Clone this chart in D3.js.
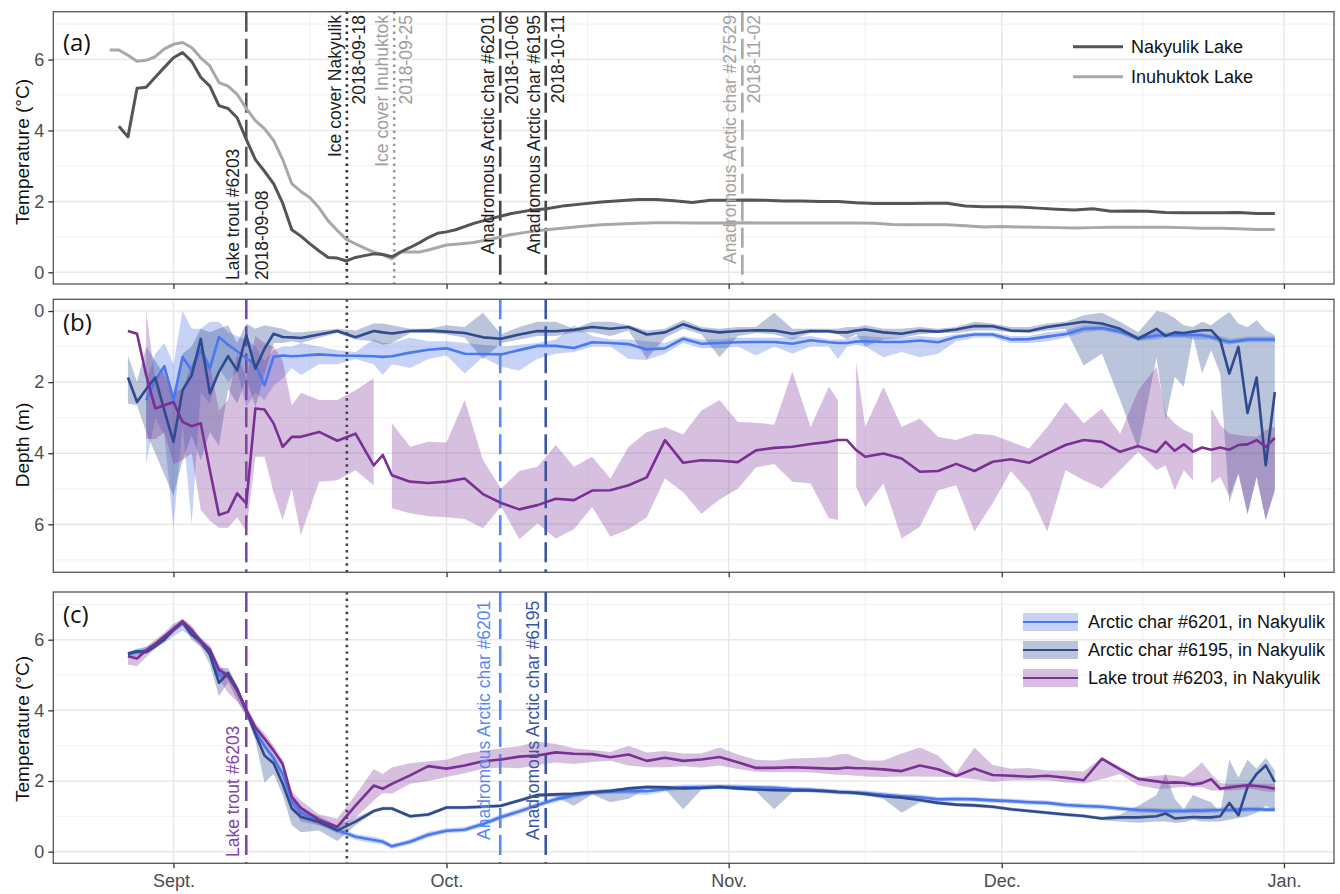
<!DOCTYPE html>
<meta charset="utf-8">
<script src="https://d3js.org/d3.v7.min.js"></script>
<style>
body { margin: 0; background: #fff; }
svg text { font-family: "Liberation Sans", Arial, sans-serif; }
.tick text { fill: #4d4d4d; font-size: 18px; }
.tick line { stroke: #333; stroke-width: 1.3px; }
</style>
<body>
<script>

// x values are days counted from 1 Sept 2018
var daysA = d3.range(-7, 31).concat(d3.range(31, 122, 2));

// (a) lake temperature
var nakyulik = [null, 4.12, 3.82, 5.19, 5.22, 5.5, 5.78, 6.05, 6.2, 5.95, 5.5, 5.25, 4.7, 4.62, 4.36, 3.75,
  3.18, 2.85, 2.5, 1.95, 1.2, 1.02, 0.8, 0.6, 0.42, 0.4, 0.32, 0.42, 0.47, 0.52, 0.5, 0.44,
  0.58, 0.7, 0.83, 0.98, 1.1, 1.14,
  1.2, 1.38, 1.52, 1.65, 1.74, 1.79, 1.88, 1.93, 1.98, 2.02, 2.05, 2.05, 2.02, 1.97, 2.03, 2.03,
  2.04, 2.03, 2.01, 2.01, 2.0, 2.0, 1.96, 1.94, 1.94, 1.94, 1.95, 1.95, 1.87, 1.85, 1.85, 1.84,
  1.81, 1.78, 1.76, 1.79, 1.72, 1.73, 1.72, 1.69, 1.68, 1.68, 1.68, 1.69, 1.66, 1.66];
var inuhuktok = [6.27, 6.27, 6.12, 5.95, 5.98, 6.08, 6.3, 6.43, 6.48, 6.34, 6.05, 5.82, 5.35, 5.25, 5.02, 4.62,
  4.28, 4.05, 3.72, 3.18, 2.5, 2.28, 2.1, 1.82, 1.45, 1.18, 0.93, 0.8, 0.68, 0.57, 0.5, 0.38,
  0.57, 0.57, 0.57, 0.63, 0.7, 0.77,
  0.79, 0.84, 0.94, 1.06, 1.14, 1.2, 1.25, 1.3, 1.34, 1.36, 1.38, 1.4, 1.4, 1.39, 1.39, 1.39,
  1.4, 1.39, 1.39, 1.39, 1.39, 1.39, 1.39, 1.38, 1.35, 1.34, 1.34, 1.34, 1.31, 1.28, 1.29, 1.28,
  1.27, 1.26, 1.25, 1.26, 1.27, 1.27, 1.27, 1.27, 1.26, 1.24, 1.24, 1.23, 1.21, 1.21];

var daysBC = [
  -5, -4, -3, -2, -1, 0, 1, 2, 3, 4, 5, 6, 7, 8, 9, 10, 11, 12, 13, 14,
  16, 18, 20, 22, 23, 24,
  26, 28, 30, 32, 34, 36, 38, 40, 42, 44, 46, 48, 50, 52, 54, 56, 58, 60, 62, 64, 66, 68, 70, 72,
  73, 74, 75, 76,
  78, 80, 82, 84, 86, 88, 90, 92, 94, 96, 98, 100, 102, 104, 106, 108,
  109, 110, 111, 112, 113, 114, 115, 116, 117, 118, 119, 120, 121];

// (b) depth, daily mean and range
var depth6201 = [null, null, 2.51, 1.95, 1.55, 2.51, 1.29, 1.67, 1.1, 1.62, 0.73, 0.95, 1.13, 1.33, 1.5, 2.09, 1.29, 1.25, 1.27, 1.26,
  1.22, 1.25, 1.26, 1.27, 1.29, 1.27,
  1.17, 1.09, 1.05, 1.2, 1.21, 1.22, 1.1, 0.98, 0.98, 1.04, 0.88, 0.9, 0.93, 1.08, 1.05, 0.78, 0.92, 0.9, 0.88, 0.87, 0.87, 0.92, 0.82, 0.88,
  0.9, 0.9, 0.86, 0.85,
  0.87, 0.87, 0.83, 0.88, 0.73, 0.66, 0.66, 0.8, 0.79, 0.72, 0.65, 0.5, 0.48, 0.58, 0.77, 0.69,
  0.68, 0.68, 0.68, 0.68, 0.68, 0.73, 0.8, 0.87, 0.84, 0.8, 0.8, 0.8, 0.8];
var depth6201Lo = [null, null, 2.0, 1.2, 0.9, 1.5, 0.0, 0.5, 0.5, 0.3, 0.3, 0.6, 0.7, 0.8, 1.0, 1.4, 1.1, 1.0, 1.0, 0.9,
  1.0, 1.1, 1.15, 0.8, 0.9, 0.9,
  0.75, 0.85, 0.85, 0.9, 0.95, 1.0, 0.95, 0.9, 0.8, 0.4, 0.7, 0.8, 0.8, 0.85, 0.9, 0.7, 0.8, 0.8, 0.75, 0.75, 0.75, 0.75, 0.7, 0.8,
  0.8, 0.8, 0.7, 0.7,
  0.75, 0.75, 0.7, 0.75, 0.65, 0.6, 0.6, 0.7, 0.7, 0.6, 0.55, 0.4, 0.4, 0.5, 0.7, 0.55,
  0.6, 0.6, 0.6, 0.6, 0.62, 0.65, 0.7, 0.78, 0.75, 0.72, 0.72, 0.72, 0.72];
var depth6201Hi = [null, null, 4.3, 3.0, 3.5, 6.1, 3.2, 6.0, 2.3, 2.6, 1.6, 2.0, 1.7, 2.7, 2.3, 2.5, 2.1, 1.9, 1.6, 1.8,
  1.5, 1.5, 1.35, 1.5, 1.8, 1.5,
  1.6, 1.35, 1.25, 1.76, 1.29, 1.57, 1.67, 1.34, 1.2, 1.15, 1.0, 1.0, 1.35, 1.38, 1.2, 0.9, 1.05, 1.05, 1.0, 1.25, 1.0, 1.2, 1.0, 1.0,
  1.35, 1.0, 0.95, 1.0,
  1.3, 1.15, 1.3, 1.2, 0.85, 0.75, 0.75, 0.9, 0.9, 0.85, 0.75, 0.6, 0.55, 0.65, 0.85, 0.8,
  0.75, 0.75, 0.75, 0.8, 0.8, 0.8, 0.9, 0.95, 0.9, 0.88, 0.88, 0.88, 0.88];

var depth6195 = [1.87, 2.56, 2.2, 1.87, 2.8, 3.68, 2.23, 1.81, 0.78, 2.32, 1.71, 1.27, 1.67, 0.68, 1.62, 1.06, 0.64, 0.73, 0.74, 0.76,
  0.66, 0.56, 0.74, 0.56, 0.6, 0.63,
  0.56, 0.55, 0.58, 0.62, 0.74, 0.78, 0.66, 0.56, 0.57, 0.53, 0.45, 0.5, 0.45, 0.66, 0.6, 0.37, 0.54, 0.6, 0.56, 0.54, 0.55, 0.64, 0.56, 0.57,
  0.6, 0.6, 0.55, 0.52,
  0.6, 0.64, 0.55, 0.58, 0.52, 0.42, 0.43, 0.55, 0.56, 0.45, 0.38, 0.3, 0.35, 0.5, 0.78, 0.5,
  0.7, 0.6, 0.62, 0.58, 0.54, 0.54, 0.82, 1.76, 1.01, 2.87, 1.87, 4.34, 2.28];
var depth6195Lo = [1.25, 2.0, 1.0, 1.4, 1.8, 2.5, 1.2, 1.0, 0.5, 0.6, 0.5, 0.4, 0.9, 0.35, 0.5, 0.4, 0.45, 0.5, 0.6, 0.6,
  0.55, 0.5, 0.55, 0.35, 0.35, 0.4,
  0.5, 0.5, 0.4, 0.45, 0.05, 0.65, 0.45, 0.3, 0.3, 0.5, 0.3, 0.3, 0.4, 0.55, 0.5, 0.25, 0.45, 0.5, 0.45, 0.45, 0.05, 0.5, 0.5, 0.5,
  0.5, 0.45, 0.45, 0.4,
  0.5, 0.5, 0.45, 0.5, 0.45, 0.3, 0.35, 0.45, 0.45, 0.35, 0.3, 0.12, 0.05, 0.3, 0.6, 0.0,
  0.05, 0.2, 0.4, 0.45, 0.3, 0.4, 0.2, 0.03, 0.36, 0.45, 0.26, 0.54, 0.68];
var depth6195Hi = [2.6, 2.65, 3.4, 4.0, 4.6, 5.2, 4.2, 3.5, 4.2, 3.4, 3.8, 2.2, 2.6, 1.9, 2.7, 1.8, 0.9, 0.9, 0.85, 0.9,
  0.75, 0.62, 0.8, 0.85, 0.95, 0.9,
  0.62, 0.62, 0.65, 0.75, 1.35, 0.9, 0.8, 0.7, 0.7, 0.6, 0.6, 0.7, 0.55, 1.35, 0.75, 0.5, 0.65, 1.3, 0.7, 0.62, 0.65, 0.8, 0.62, 0.62,
  0.65, 0.8, 0.65, 1.0,
  0.8, 0.75, 0.65, 0.62, 0.62, 0.55, 0.55, 0.6, 0.62, 0.55, 0.5, 1.53, 1.2, 2.5, 3.9, 1.3,
  3.07, 1.85, 2.13, 0.7, 1.76, 1.1, 1.76, 5.41, 4.57, 5.74, 4.66, 5.88, 5.04];

var depthTrout = [0.56, 0.64, 1.8, 2.74, 2.65, 2.56, 3.12, 3.24, 3.16, 4.48, 5.74, 5.65, 5.13, 5.41, 2.74, 2.77, 3.16, 3.82, 3.54, 3.54,
  3.4, 3.65, 3.45, 4.34, 4.05, 4.62,
  4.8, 4.84, 4.8, 4.71, 5.15, 5.4, 5.58, 5.46, 5.28, 5.32, 5.05, 5.04, 4.9, 4.68, 3.63, 4.27, 4.2, 4.21, 4.25, 3.92, 3.85, 3.82, 3.74, 3.68,
  3.63, 3.63, 3.91, 4.1,
  4.01, 4.15, 4.52, 4.5, 4.3, 4.5, 4.24, 4.17, 4.27, 4.01, 3.77, 3.63, 3.68, 3.96, 3.8, 3.97,
  3.68, 3.93, 3.75, 3.96, 3.84, 3.9, 3.84, 3.9, 3.77, 3.75, 3.63, 3.82, 3.57];
var depthTroutLo = [null, null, 0.0, 1.9, 1.5, 2.3, 2.2, 1.5, 1.0, 1.5, 2.8, 2.5, 1.2, 1.9, 0.7, 0.9, 1.0, 1.4, 2.65, 2.3,
  2.5, 2.5, 2.23, 1.9, null, 3.16,
  3.82, 3.68, 3.7, 2.5, 4.19, 5.0, 4.5, 4.38, 3.77, 4.38, 4.1, 4.71, 3.82, 3.4, 3.26, 3.47, 2.8, 2.5, 3.12, 3.14, 3.2, 1.7, 3.26, 2.13,
  2.51, null, 1.43, 3.26,
  2.13, 3.26, 3.02, 3.54, 3.63, 3.45, 3.49, 3.68, 3.87, 3.26, 2.56, 3.16, 2.75, 3.45, 2.23, 1.57,
  2.88, 3.16, 3.35, 3.45, null, 2.74, 3.2, 3.45, 3.49, 3.52, 3.54, 3.35, 3.26];
var depthTroutHi = [null, null, 3.6, 3.6, 3.4, 4.3, 4.2, 4.0, 5.6, 5.9, 6.1, 6.1, 5.8, 6.2, 4.1, 4.1, 5.1, 5.88, 5.0, 6.3,
  4.8, 4.76, 4.48, 4.9, null, 5.55,
  5.69, 5.77, 5.8, 5.85, 6.11, 5.5, 6.42, 5.97, 6.4, 6.14, 5.51, 6.35, 6.14, 5.8, 4.71, 5.1, 5.7, 5.3, 5.0, 4.4, 4.3, 4.8, 4.85, 5.83,
  5.88, null, 4.94, 5.51,
  4.85, 6.4, 6.07, 5.04, 4.9, 6.2, 5.41, 4.5, 5.1, 6.2, 4.48, 4.76, 4.99, 4.48, 3.96, 4.48,
  4.34, 5.04, 4.48, 4.76, null, 4.85, 4.66, 5.22, 4.57, 5.69, 4.66, 5.88, 5.04];

// (c) body temperature, daily mean and range
var temp6201 = [5.58, 5.65, 5.7, 5.85, 6.05, 6.3, 6.48, 6.2, 5.95, 5.65, 5.0, 5.0, 4.6, 4.0, 3.4, 3.0, 2.65, 2.2, 1.45, 1.1,
  0.85, 0.61, 0.42, 0.33, 0.28, 0.15,
  0.28, 0.48, 0.59, 0.62, 0.78, 0.98, 1.14, 1.32, 1.48, 1.6, 1.67, 1.7, 1.72, 1.71, 1.77, 1.82, 1.83, 1.84, 1.83, 1.82, 1.81, 1.77, 1.75, 1.71,
  1.69, 1.68, 1.67, 1.66,
  1.61, 1.57, 1.54, 1.48, 1.49, 1.48, 1.45, 1.43, 1.4, 1.38, 1.32, 1.29, 1.27, 1.22, 1.18, 1.16,
  1.15, 1.15, 1.15, 1.16, 1.16, 1.17, 1.18, 1.18, 1.19, 1.2, 1.2, 1.19, 1.19];
var temp6201Lo = [5.5, 5.55, 5.6, 5.75, 5.9, 6.1, 6.25, 6.1, 5.85, 5.55, 4.9, 4.9, 4.5, 3.9, 3.3, 2.9, 2.55, 2.05, 1.3, 1.0,
  0.75, 0.52, 0.34, 0.24, 0.2, 0.08,
  0.2, 0.4, 0.52, 0.55, 0.7, 0.9, 1.06, 1.25, 1.4, 1.53, 1.6, 1.63, 1.64, 1.6, 1.7, 1.75, 1.76, 1.77, 1.76, 1.75, 1.74, 1.7, 1.68, 1.64,
  1.62, 1.61, 1.6, 1.59,
  1.54, 1.5, 1.47, 1.41, 1.42, 1.41, 1.38, 1.36, 1.33, 1.31, 1.25, 1.22, 1.2, 1.15, 1.11, 1.09,
  1.08, 1.08, 1.08, 1.09, 1.09, 1.1, 1.11, 1.11, 1.12, 1.13, 1.13, 1.12, 1.12];
var temp6201Hi = [5.65, 5.75, 5.8, 5.95, 6.15, 6.4, 6.55, 6.3, 6.05, 5.75, 5.1, 5.1, 4.7, 4.1, 3.5, 3.1, 2.75, 2.35, 1.6, 1.25,
  0.95, 0.7, 0.5, 0.42, 0.36, 0.22,
  0.36, 0.56, 0.66, 0.7, 0.86, 1.06, 1.22, 1.4, 1.56, 1.68, 1.75, 1.78, 1.8, 1.8, 1.85, 1.9, 1.9, 1.91, 1.9, 1.89, 1.88, 1.84, 1.82, 1.78,
  1.76, 1.75, 1.74, 1.73,
  1.68, 1.64, 1.61, 1.55, 1.56, 1.55, 1.52, 1.5, 1.47, 1.45, 1.39, 1.36, 1.34, 1.29, 1.25, 1.23,
  1.22, 1.22, 1.22, 1.23, 1.23, 1.24, 1.25, 1.25, 1.26, 1.27, 1.27, 1.26, 1.26];

var temp6195 = [5.6, 5.67, 5.65, 5.82, 6.0, 6.28, 6.5, 6.14, 5.95, 5.58, 4.78, 5.06, 4.59, 3.99, 3.33, 2.72, 2.5, 1.92, 1.22, 0.98,
  0.84, 0.6, 0.85, 1.15, 1.22, 1.22,
  1.0, 1.05, 1.25, 1.25, 1.27, 1.3, 1.45, 1.6, 1.62, 1.64, 1.68, 1.72, 1.79, 1.83, 1.82, 1.79, 1.8, 1.83, 1.79, 1.76, 1.74, 1.73, 1.73, 1.71,
  1.69, 1.68, 1.66, 1.63,
  1.57, 1.53, 1.46, 1.38, 1.33, 1.31, 1.27, 1.2, 1.15, 1.1, 1.05, 1.01, 0.94, 0.97, 0.97, 1.0,
  1.08, 0.94, 0.96, 0.98, 0.97, 0.97, 1.0, 1.38, 1.03, 1.83, 2.2, 2.44, 1.97];
var temp6195Lo = [5.55, 5.6, 5.6, 5.75, 5.95, 6.2, 6.4, 6.0, 5.8, 5.3, 4.4, 4.8, 4.3, 3.85, 3.15, 1.95, 2.2, 1.6, 0.75, 0.55,
  0.6, 0.3, 0.75, 1.1, 1.17, 1.17,
  0.95, 1.0, 1.2, 1.2, 1.22, 1.25, 1.4, 1.55, 1.55, 1.3, 1.62, 1.4, 1.5, 1.78, 1.77, 1.2, 1.75, 1.78, 1.74, 1.7, 1.2, 1.68, 1.68, 1.66,
  1.64, 1.63, 1.61, 1.58,
  1.5, 1.1, 1.4, 1.33, 1.28, 1.26, 1.22, 1.15, 1.1, 1.05, 1.0, 0.96, 0.89, 0.85, 0.82, 0.85,
  0.85, 0.82, 0.83, 0.9, 0.85, 0.85, 0.85, 0.9, 0.95, 1.0, 1.1, 1.3, 1.2];
var temp6195Hi = [5.65, 5.72, 5.7, 5.9, 6.05, 6.35, 6.58, 6.25, 6.05, 5.75, 5.2, 5.2, 4.7, 4.1, 3.55, 3.0, 2.7, 2.1, 1.4, 1.2,
  1.0, 0.75, 0.95, 1.2, 1.27, 1.27,
  1.05, 1.1, 1.3, 1.3, 1.32, 1.35, 1.5, 1.65, 1.67, 1.68, 1.72, 1.76, 1.83, 1.88, 1.87, 1.83, 1.85, 1.88, 1.84, 1.8, 1.78, 1.78, 1.78, 1.76,
  1.74, 1.73, 1.71, 1.68,
  1.62, 1.58, 1.5, 1.43, 1.38, 1.36, 1.32, 1.25, 1.2, 1.15, 1.1, 1.06, 0.99, 1.05, 1.3, 1.6,
  2.2, 1.5, 1.2, 1.6, 1.5, 1.4, 1.1, 2.6, 2.1, 2.6, 2.35, 2.65, 2.3];

var tempTrout = [5.53, 5.47, 5.7, 5.88, 6.1, 6.3, 6.52, 6.28, 5.95, 5.72, 5.15, 4.97, 4.55, 4.02, 3.52, 3.2, 2.86, 2.48, 1.55, 1.24,
  0.9, 0.7, 1.3, 1.87, 1.78, 1.92,
  2.16, 2.42, 2.35, 2.44, 2.56, 2.61, 2.69, 2.72, 2.81, 2.77, 2.76, 2.67, 2.75, 2.57, 2.66, 2.57, 2.61, 2.68, 2.53, 2.37, 2.37, 2.39, 2.37, 2.35,
  2.35, 2.38, 2.36, 2.36,
  2.33, 2.28, 2.44, 2.33, 2.14, 2.35, 2.17, 2.15, 2.12, 2.15, 2.09, 2.02, 2.63, 2.33, 2.06, 1.99,
  1.95, 1.96, 1.95, 1.9, 1.94, 2.05, 1.78, 1.82, 1.85, 1.88, 1.86, 1.83, 1.78];
var tempTroutLo = [5.3, 5.25, 5.5, 5.75, 6.0, 6.2, 6.4, 6.1, 5.8, 5.6, 4.9, 4.5, 4.25, 3.85, 3.4, 3.05, 2.7, 2.35, 1.3, 0.85,
  0.75, 0.65, 0.95, 1.45, 1.66, 1.64,
  1.92, 2.0, 2.11, 2.22, 2.35, 2.38, 2.36, 2.45, 2.52, 2.48, 2.54, 2.57, 2.44, 2.39, 2.39, 2.42, 2.38, 2.44, 2.34, 2.26, 2.25, 2.25, 2.24, 2.2,
  2.18, 2.17, 2.15, 2.13,
  2.11, 2.13, 2.13, 2.12, 2.11, 2.05, 1.98, 2.02, 2.02, 2.02, 1.96, 1.93, 2.05, 2.2, 1.88, 1.78,
  1.78, 1.81, 1.83, 1.83, 1.83, 1.73, 1.73, 1.73, 1.75, 1.78, 1.75, 1.7, 1.69];
var tempTroutHi = [5.65, 5.7, 5.8, 6.0, 6.2, 6.45, 6.6, 6.4, 6.05, 5.85, 5.3, 5.05, 4.7, 4.1, 3.65, 3.35, 3.0, 2.6, 1.7, 1.45,
  1.05, 0.94, 1.6, 2.34, 2.2, 2.39,
  2.5, 2.56, 2.6, 2.77, 2.85, 2.93, 2.98, 3.12, 3.05, 2.93, 2.88, 2.82, 3.0, 2.81, 2.85, 2.78, 2.78, 2.95, 2.75, 2.6, 2.58, 2.64, 2.65, 2.68,
  2.75, 2.77, 2.67, 2.58,
  2.58, 2.78, 2.95, 2.72, 2.22, 2.95, 2.45, 2.35, 2.37, 2.3, 2.3, 2.27, 2.67, 2.4, 2.1, 2.15,
  2.18, 2.15, 2.11, 2.3, 2.53, 2.2, 1.94, 1.92, 1.93, 1.94, 1.93, 1.92, 1.92];

// events (vertical lines), positions
var eventNames = ["Lake trout #6203", "Ice cover Nakyulik", "Ice cover Inuhuktok",
  "Anadromous Arctic char #6201", "Anadromous Arctic char #6195", "Anadromous Arctic char #27529"];
var eventDates = ["2018-09-08", "2018-09-18", "2018-09-25", "2018-10-06", "2018-10-11", "2018-11-02"];
var eventDays = [8.0, 19.05, 24.25, 35.9, 40.9, 62.5];

var monthLabels = ["Sept.", "Oct.", "Nov.", "Dec.", "Jan."];
var yTicks = [0, 2, 4, 6];
var yMinor = [1, 3, 5, 7];

[["nakyulik", nakyulik], ["inuhuktok", inuhuktok]].forEach(function(p) {
  if (p[1].length !== daysA.length) throw new Error(p[0] + " length " + p[1].length);
});
[["depth6201", depth6201], ["depth6201Lo", depth6201Lo], ["depth6201Hi", depth6201Hi],
 ["depth6195", depth6195], ["depth6195Lo", depth6195Lo], ["depth6195Hi", depth6195Hi],
 ["depthTrout", depthTrout], ["depthTroutLo", depthTroutLo], ["depthTroutHi", depthTroutHi],
 ["temp6201", temp6201], ["temp6201Lo", temp6201Lo], ["temp6201Hi", temp6201Hi],
 ["temp6195", temp6195], ["temp6195Lo", temp6195Lo], ["temp6195Hi", temp6195Hi],
 ["tempTrout", tempTrout], ["tempTroutLo", tempTroutLo], ["tempTroutHi", tempTroutHi]].forEach(function(p) {
  if (p[1].length !== daysBC.length) throw new Error(p[0] + " length " + p[1].length);
});

var col = {
  nak: "#555555", inu: "#a8a8a8",
  c6201: "#4a78ee", c6195: "#2f4b8e", trout: "#7a2f95",
  f6201: "#4169e1", f6195: "#2f4b8e", fTrout: "#7a2f95",
  v6201: "#5a88f2", v6195: "#3b56a0", vTrout: "#8444a4"
};

var width = 1340, height = 894;
var left = 53.3, right = 1334;

var svg = d3.select("body").append("svg")
    .attr("width", width)
    .attr("height", height);

var origin = Date.UTC(2018, 8, 1);
function toDate(d) { return new Date(origin + d * 864e5); }

var x = d3.scaleUtc()
    .domain([toDate(-13.2), toDate(127.5)])
    .range([left, right]);

var monthTicks = [toDate(0), toDate(30), toDate(61), toDate(91), toDate(122)];
var monthMinor = d3.pairs(monthTicks).map(function(p) { return new Date((+p[0] + +p[1]) / 2); });

function makePanel(id, top, bottom, reversed) {
  var y = d3.scaleLinear()
      .domain([-0.33, 7.35])
      .range(reversed ? [top, bottom] : [bottom, top]);
  var g = svg.append("g").attr("class", "panel-" + id);

  g.append("clipPath").attr("id", "clip-" + id)
    .append("rect").attr("x", left).attr("y", top)
    .attr("width", right - left).attr("height", bottom - top);

  // grid
  g.selectAll(".hmin").data(yMinor).enter().append("line")
      .attr("x1", left).attr("x2", right)
      .attr("y1", y).attr("y2", y)
      .style("stroke", "#ededed").style("stroke-width", 0.8);
  g.selectAll(".vmin").data(monthMinor).enter().append("line")
      .attr("x1", x).attr("x2", x)
      .attr("y1", top).attr("y2", bottom)
      .style("stroke", "#ededed").style("stroke-width", 0.8);
  g.selectAll(".hmaj").data(yTicks).enter().append("line")
      .attr("x1", left).attr("x2", right)
      .attr("y1", y).attr("y2", y)
      .style("stroke", "#e8e8e8").style("stroke-width", 1.5);
  g.selectAll(".vmaj").data(monthTicks).enter().append("line")
      .attr("x1", x).attr("x2", x)
      .attr("y1", top).attr("y2", bottom)
      .style("stroke", "#e8e8e8").style("stroke-width", 1.5);

  var data = g.append("g").attr("clip-path", "url(#clip-" + id + ")");
  return {g: g, data: data, y: y, top: top, bottom: bottom};
}

function finishPanel(p, showLabels, title, titleY, tag, tagY) {
  var g = p.g;
  g.append("rect")
      .attr("x", left).attr("y", p.top)
      .attr("width", right - left).attr("height", p.bottom - p.top)
      .style("fill", "none").style("stroke", "#555").style("stroke-width", 1.3);

  var xa = g.append("g")
      .attr("transform", "translate(0," + p.bottom + ")")
      .call(d3.axisBottom(x).tickValues(monthTicks)
        .tickFormat(function(d, i) { return showLabels ? monthLabels[i] : ""; })
        .tickSize(5).tickPadding(6));
  xa.select(".domain").remove();
  xa.selectAll("text").attr("font-family", null);

  var ya = g.append("g")
      .attr("transform", "translate(" + left + ",0)")
      .call(d3.axisLeft(p.y).tickValues(yTicks).tickSize(5).tickPadding(4));
  ya.select(".domain").remove();
  ya.selectAll("text").attr("font-family", null);

  g.append("text")
      .attr("transform", "translate(22," + titleY + ") rotate(-90)")
      .attr("text-anchor", "middle")
      .attr("dominant-baseline", "central")
      .style("font-size", "19px")
      .style("fill", "#111")
      .text(title);

  g.append("text")
      .attr("x", 63).attr("y", tagY)
      .attr("dominant-baseline", "central")
      .style("font-family", "'Open Sans', sans-serif")
      .style("font-size", "24px")
      .style("fill", "#111")
      .text(tag);
}

function rows(days, v, lo, hi) {
  return days.map(function(d, i) {
    return {date: toDate(d), v: v[i], lo: lo ? lo[i] : null, hi: hi ? hi[i] : null};
  });
}

function drawRibbon(p, rs, fill, op) {
  var area = d3.area()
      .defined(function(d) { return d.lo != null && d.hi != null; })
      .x(function(d) { return x(d.date); })
      .y0(function(d) { return p.y(d.lo); })
      .y1(function(d) { return p.y(d.hi); });
  p.data.append("path").datum(rs)
      .attr("d", area)
      .style("fill", fill).style("fill-opacity", op).style("stroke", "none");
}

function drawLine(p, rs, color, w) {
  var line = d3.line()
      .defined(function(d) { return d.v != null; })
      .x(function(d) { return x(d.date); })
      .y(function(d) { return p.y(d.v); });
  p.data.append("path").datum(rs)
      .attr("d", line)
      .style("fill", "none").style("stroke", color)
      .style("stroke-width", w).style("stroke-linejoin", "round");
}

function vline(p, day, color, dash, w) {
  p.data.append("line")
      .attr("x1", x(toDate(day))).attr("x2", x(toDate(day)))
      .attr("y1", p.top).attr("y2", p.bottom)
      .style("stroke", color).style("stroke-width", w || 2.6)
      .style("stroke-dasharray", dash);
}

function vtext(g, px, py, anchor, color, txt) {
  g.append("text")
      .attr("transform", "translate(" + px + "," + py + ") rotate(-90)")
      .attr("text-anchor", anchor)
      .attr("dominant-baseline", "central")
      .style("font-size", "17.5px")
      .style("fill", color)
      .text(txt);
}

var longdash = "20,7", dotted = "2.4,4.2";

// ---- panel (a)
var pa = makePanel("a", 11.7, 284, false);
var styleA = [
  {line: "#555", dash: longdash, text: "#1e1e1e", at: "bottom"},
  {line: "#333", dash: dotted, text: "#1e1e1e", at: "top"},
  {line: "#9a9a9a", dash: dotted, text: "#9d9d9d", at: "top"},
  {line: "#444", dash: longdash, text: "#1e1e1e", at: "top"},
  {line: "#444", dash: longdash, text: "#1e1e1e", at: "top"},
  {line: "#a8a8a8", dash: longdash, text: "#a3a3a3", at: "top"}
];
eventDays.forEach(function(d, i) { vline(pa, d, styleA[i].line, styleA[i].dash); });
drawLine(pa, rows(daysA, inuhuktok), col.inu, 3);
drawLine(pa, rows(daysA, nakyulik), col.nak, 3);
eventDays.forEach(function(d, i) {
  var s = styleA[i], px = x(toDate(d));
  if (s.at === "bottom") {
    vtext(pa.g, px - 13, 280, "start", s.text, eventNames[i]);
    vtext(pa.g, px + 16, 280, "start", s.text, eventDates[i]);
  } else {
    vtext(pa.g, px - 12, 15, "end", s.text, eventNames[i]);
    vtext(pa.g, px + 12, 15, "end", s.text, eventDates[i]);
  }
});
// legend (a)
[["Nakyulik Lake", col.nak, 46.7], ["Inuhuktok Lake", col.inu, 76.7]].forEach(function(l) {
  pa.g.append("line").attr("x1", 1073).attr("x2", 1123).attr("y1", l[2]).attr("y2", l[2])
      .style("stroke", l[1]).style("stroke-width", 3);
  pa.g.append("text").attr("x", 1131).attr("y", l[2])
      .attr("dominant-baseline", "central")
      .style("font-size", "18px").style("fill", "#111")
      .text(l[0]);
});
finishPanel(pa, false, "Temperature (°C)", 152, "(a)", 41.7);

// ---- panel (b)
var pb = makePanel("b", 299.3, 572.3, true);
var b6201 = rows(daysBC, depth6201, depth6201Lo, depth6201Hi);
var b6195 = rows(daysBC, depth6195, depth6195Lo, depth6195Hi);
var bTrout = rows(daysBC, depthTrout, depthTroutLo, depthTroutHi);
drawRibbon(pb, b6201, col.f6201, 0.3);
drawRibbon(pb, b6195, col.f6195, 0.33);
drawRibbon(pb, bTrout, col.fTrout, 0.3);
vline(pb, eventDays[0], col.vTrout, longdash);
vline(pb, eventDays[1], "#444", dotted);
vline(pb, eventDays[3], col.v6201, longdash);
vline(pb, eventDays[4], col.v6195, longdash);
drawLine(pb, b6201, col.c6201, 2.6);
drawLine(pb, b6195, col.c6195, 2.6);
drawLine(pb, bTrout, col.trout, 2.6);
finishPanel(pb, false, "Depth (m)", 445, "(b)", 321.7);

// ---- panel (c)
var pc = makePanel("c", 592, 863.3, false);
var c6201 = rows(daysBC, temp6201, temp6201Lo, temp6201Hi);
var c6195 = rows(daysBC, temp6195, temp6195Lo, temp6195Hi);
var cTrout = rows(daysBC, tempTrout, tempTroutLo, tempTroutHi);
drawRibbon(pc, c6201, col.f6201, 0.3);
drawRibbon(pc, c6195, col.f6195, 0.33);
drawRibbon(pc, cTrout, col.fTrout, 0.3);
vline(pc, eventDays[0], col.vTrout, longdash);
vline(pc, eventDays[1], "#444", dotted);
vline(pc, eventDays[3], col.v6201, longdash);
vline(pc, eventDays[4], col.v6195, longdash);
drawLine(pc, c6201, col.c6201, 2.6);
drawLine(pc, c6195, col.c6195, 2.6);
drawLine(pc, cTrout, col.trout, 2.6);
vtext(pc.g, x(toDate(eventDays[0])) - 13, 857, "start", col.vTrout, eventNames[0]);
vtext(pc.g, x(toDate(eventDays[3])) - 16, 840, "start", col.v6201, eventNames[3]);
vtext(pc.g, x(toDate(eventDays[4])) - 13, 840, "start", col.v6195, eventNames[4]);

// legend (c)
var legendC = [
  ["Arctic char #6201, in Nakyulik", col.c6201, col.f6201, 0.3],
  ["Arctic char #6195, in Nakyulik", col.c6195, col.f6195, 0.33],
  ["Lake trout #6203, in Nakyulik", col.trout, col.fTrout, 0.3]
];
legendC.forEach(function(l, i) {
  var cy = 622 + i * 28;
  pc.g.append("rect").attr("x", 1023).attr("y", cy - 9).attr("width", 55).attr("height", 18)
      .style("fill", l[2]).style("fill-opacity", l[3]);
  pc.g.append("line").attr("x1", 1023).attr("x2", 1078).attr("y1", cy).attr("y2", cy)
      .style("stroke", l[1]).style("stroke-width", 2);
  pc.g.append("text").attr("x", 1088).attr("y", cy)
      .attr("dominant-baseline", "central")
      .style("font-size", "18px").style("fill", "#111")
      .text(l[0]);
});
finishPanel(pc, true, "Temperature (°C)", 729, "(c)", 613.3);

</script>
</body>
</html>
